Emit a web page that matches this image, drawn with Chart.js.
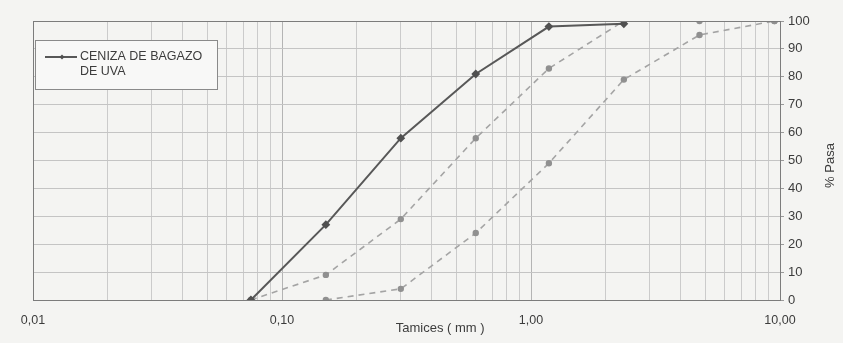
<!DOCTYPE html>
<html>
<head>
<meta charset="utf-8">
<script src="https://cdn.jsdelivr.net/npm/chart.js@4.4.0/dist/chart.umd.min.js"></script>
<style>
  html, body { margin: 0; padding: 0; background: #f4f4f2; }
  #wrap { width: 843px; height: 343px; }
</style>
</head>
<body>
<div id="wrap"><canvas id="curva"></canvas></div>
<script>
// aberturas de tamiz (mm) y % que pasa
const tamices = [0.075, 0.15, 0.30, 0.60, 1.18, 2.36, 4.75, 9.5];
const pasaMuestra = [0, 27, 58, 81, 98, 99, null, null];
const limiteSuperior = [0, 9, 29, 58, 83, 100, 100, 100];
const limiteInferior = [null, 0, 4, 24, 49, 79, 95, 100];

const decadas = [0.01, 0.1, 1, 10];
const decadaLabels = ['0,01', '0,10', '1,00', '10,00'];
const subdivisiones = [2, 3, 4, 5, 6, 7, 8, 9];
const pasaTicks = [0, 10, 20, 30, 40, 50, 60, 70, 80, 90, 100];

const fuente = '"Liberation Sans", Arial, sans-serif';

function puntos(valores) {
  const out = [];
  tamices.forEach((t, i) => {
    if (valores[i] !== null) out.push({ x: t, y: valores[i] });
  });
  return out;
}

function ticksLog() {
  const ticks = [];
  decadas.forEach((d, i) => {
    ticks.push({ value: d, major: true });
    if (i < decadas.length - 1) {
      subdivisiones.forEach(s => ticks.push({ value: +(d * s).toPrecision(3), major: false }));
    }
  });
  return ticks;
}

const marco = {
  id: 'marco',
  beforeDraw(chart) {
    const { ctx, width, height } = chart;
    ctx.save();
    ctx.fillStyle = '#f4f4f2';
    ctx.fillRect(0, 0, width, height);
    ctx.restore();
  },
  afterDraw(chart) {
    const { ctx, chartArea: a } = chart;
    ctx.save();
    ctx.strokeStyle = '#7c7c7c';
    ctx.lineWidth = 1;
    ctx.strokeRect(a.left + 0.5, a.top + 0.5, a.right - a.left, a.bottom - a.top);

    // titulos de ejes
    ctx.fillStyle = '#3c3c3c';
    ctx.font = '13px ' + fuente;
    ctx.textAlign = 'center';
    ctx.textBaseline = 'middle';
    ctx.fillText('Tamices ( mm )', a.left + (a.right - a.left) * 0.545, a.bottom + 28);
    ctx.save();
    ctx.translate(a.right + 50, (a.top + a.bottom) / 2 + 5);
    ctx.rotate(-Math.PI / 2);
    ctx.fillText('% Pasa', 0, 0);
    ctx.restore();

    // leyenda
    const ds = chart.data.datasets[0];
    const bx = a.left + 2, by = a.top + 19, bw = 182, bh = 49;
    ctx.fillStyle = '#f8f8f7';
    ctx.fillRect(bx, by, bw, bh);
    ctx.strokeStyle = '#8a8a8a';
    ctx.strokeRect(bx + 0.5, by + 0.5, bw, bh);
    ctx.strokeStyle = ds.borderColor;
    ctx.lineWidth = ds.borderWidth;
    ctx.beginPath();
    ctx.moveTo(bx + 10, by + 17);
    ctx.lineTo(bx + 42, by + 17);
    ctx.stroke();
    ctx.fillStyle = ds.pointBackgroundColor;
    ctx.beginPath();
    ctx.moveTo(bx + 27, by + 14.5);
    ctx.lineTo(bx + 29.5, by + 17);
    ctx.lineTo(bx + 27, by + 19.5);
    ctx.lineTo(bx + 24.5, by + 17);
    ctx.closePath();
    ctx.fill();
    ctx.fillStyle = '#3c3c3c';
    ctx.font = '12.5px ' + fuente;
    ctx.textAlign = 'left';
    ds.label.forEach((linea, i) => ctx.fillText(linea, bx + 45, by + 17 + i * 15));
    ctx.restore();
  }
};

new Chart(document.getElementById('curva'), {
  type: 'line',
  data: {
    datasets: [
      {
        label: ['CENIZA DE BAGAZO', 'DE UVA'],
        data: puntos(pasaMuestra),
        borderColor: '#585858',
        borderWidth: 2,
        pointStyle: 'rectRot',
        pointRadius: 3,
        pointBackgroundColor: '#505050',
        pointBorderColor: '#505050',
        tension: 0
      },
      {
        label: 'Limite superior',
        data: puntos(limiteSuperior),
        borderColor: '#a4a4a4',
        borderWidth: 1.6,
        borderDash: [6, 5],
        pointRadius: 2.4,
        pointBackgroundColor: '#909090',
        pointBorderColor: '#909090',
        tension: 0
      },
      {
        label: 'Limite inferior',
        data: puntos(limiteInferior),
        borderColor: '#a4a4a4',
        borderWidth: 1.6,
        borderDash: [6, 5],
        pointRadius: 2.4,
        pointBackgroundColor: '#909090',
        pointBorderColor: '#909090',
        tension: 0
      }
    ]
  },
  options: {
    responsive: true,
    maintainAspectRatio: false,
    animation: false,
    layout: { padding: { left: 33, top: 21, right: 0, bottom: 0 } },
    plugins: {
      legend: { display: false },
      tooltip: { enabled: false }
    },
    scales: {
      x: {
        type: 'logarithmic',
        min: 0.01,
        max: 10,
        afterBuildTicks: scale => { scale.ticks = ticksLog(); },
        afterFit: scale => { scale.height = 43; },
        border: { display: false },
        grid: {
          color: ctx => (ctx.tick && ctx.tick.major) ? '#b4b4b4' : '#cbcbcb',
          lineWidth: 1,
          drawTicks: false
        },
        ticks: {
          autoSkip: false,
          maxRotation: 0,
          padding: 13,
          color: '#3c3c3c',
          font: { family: fuente, size: 12.5 },
          callback: value => {
            const i = decadas.findIndex(d => Math.abs(d - value) < 1e-9);
            return i >= 0 ? decadaLabels[i] : '';
          }
        }
      },
      y: {
        position: 'right',
        min: 0,
        max: 100,
        afterBuildTicks: scale => { scale.ticks = pasaTicks.map(v => ({ value: v })); },
        afterFit: scale => { scale.width = 63; },
        border: { display: false },
        grid: {
          color: '#c4c4c4',
          lineWidth: 1,
          tickLength: 4,
          tickColor: '#9a9a9a'
        },
        ticks: {
          padding: 4,
          color: '#3c3c3c',
          font: { family: fuente, size: 13 }
        }
      }
    }
  },
  plugins: [marco]
});
</script>
</body>
</html>
